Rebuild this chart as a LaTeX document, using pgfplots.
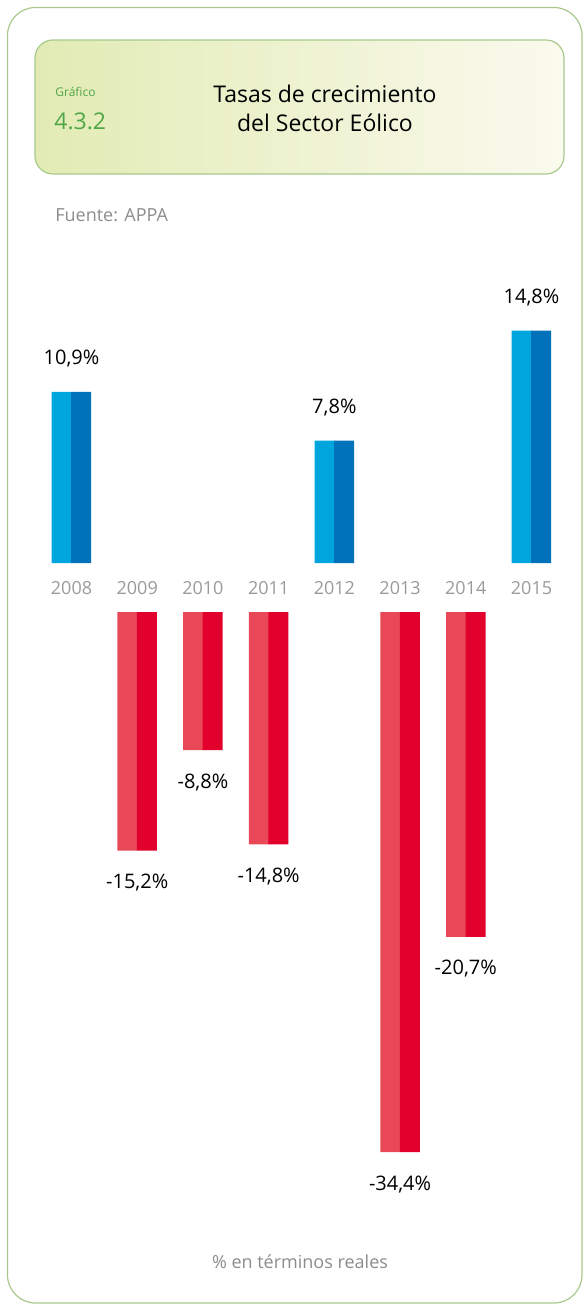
\documentclass[border=0pt]{standalone}
\usepackage{fontspec}
\setmainfont{Open Sans}
\usepackage{pgfplots}
\pgfplotsset{compat=1.18}

\definecolor{bluL}{HTML}{00A5DE}
\definecolor{bluR}{HTML}{0072B9}
\definecolor{redL}{HTML}{E84858}
\definecolor{redR}{HTML}{E2002D}
\definecolor{frame}{HTML}{A8C98C}
\definecolor{grn}{HTML}{4FA646}
\definecolor{txtgray}{HTML}{8C8C8C}
\definecolor{yeargray}{HTML}{9A9A9A}
\definecolor{hdrL}{HTML}{E2EBB4}
\definecolor{hdrR}{HTML}{FAFAEE}

\pgfplotstableread{
x y lab
0 10.9 10,9
4 7.8 7,8
7 14.8 14,8
}\pos
\pgfplotstableread{
x y lab
1 -15.2 -15,2
2 -8.8 -8,8
3 -14.8 -14,8
5 -34.4 -34,4
6 -20.7 -20,7
}\neg

\pgfplotsset{
  bars/.style={
    width=262.86pt, scale only axis,
    xmin=-0.5, xmax=7.5,
    ybar, bar width=10pt,
    axis line style={draw=none},
    major tick length=0pt,
    ytick=\empty,
    clip=false,
  },
}

\begin{document}
\begin{tikzpicture}
\path[use as bounding box] (0,0) rectangle (292.5pt,-653.5pt);
\begin{scope}[x=0.5pt,y=-0.5pt]
  % outer frame
  \draw[frame, line width=0.6pt, rounded corners=14pt] (7.5,7.5) rectangle (582,1303);
  % header box
  \shade[left color=hdrL, right color=hdrR, rounded corners=9pt]
    (35,40) rectangle (564,174);
  \draw[frame, line width=0.6pt, rounded corners=9pt] (35,40) rectangle (564,174);
  \node[anchor=west, text=grn, font=\fontsize{6}{7}\selectfont, inner sep=0pt] at (55,92) {Gráfico};
  \node[anchor=west, text=grn, font=\fontsize{11.5}{13}\selectfont, inner sep=0pt] at (54,121) {4.3.2};
  \node[align=center, font=\fontsize{11.5}{14.5}\selectfont, inner sep=0pt] at (325,108)
    {Tasas de crecimiento\\del Sector Eólico};
  \node[anchor=west, text=txtgray, font=\fontsize{9}{10}\selectfont, inner sep=0pt] at (55,215) {Fuente: APPA};
  \node[text=txtgray, font=\fontsize{9}{10}\selectfont, inner sep=0pt] at (300,1262) {\% en términos reales};
\end{scope}

% positive growth
\begin{axis}[bars,
  at={(19.32pt,-281.5pt)}, anchor=south west,
  height=117.75pt, ymin=0, ymax=15,
  xtick={0,...,7},
  xticklabels={2008,2009,2010,2011,2012,2013,2014,2015},
  xticklabel style={anchor=center, yshift=-12.5pt, text=yeargray, font=\fontsize{9}{10}\selectfont},
]
\addplot[draw=none, fill=bluL, bar shift=-4.875pt] table[x=x, y=y] {\pos};
\addplot[draw=none, fill=bluR, bar shift=4.875pt] table[x=x, y=y] {\pos};
\addplot[draw=none, fill=none, bar shift=0pt,
  point meta=explicit symbolic,
  nodes near coords={\pgfplotspointmeta\%},
  every node near coord/.style={anchor=center, yshift=16.5pt, font=\fontsize{10}{11}\selectfont, text=black}]
  table[x=x, y=y, meta=lab] {\pos};
\end{axis}

% negative growth
\begin{axis}[bars,
  at={(19.32pt,-306pt)}, anchor=north west,
  height=274.75pt, ymin=-35, ymax=0,
  xtick=\empty,
]
\addplot[draw=none, fill=redL, bar shift=-4.875pt] table[x=x, y=y] {\neg};
\addplot[draw=none, fill=redR, bar shift=4.875pt] table[x=x, y=y] {\neg};
\addplot[draw=none, fill=none, bar shift=0pt,
  point meta=explicit symbolic,
  nodes near coords={\pgfplotspointmeta\%},
  every node near coord/.style={anchor=center, yshift=-16pt, font=\fontsize{10}{11}\selectfont, text=black}]
  table[x=x, y=y, meta=lab] {\neg};
\end{axis}
\end{tikzpicture}
\end{document}
